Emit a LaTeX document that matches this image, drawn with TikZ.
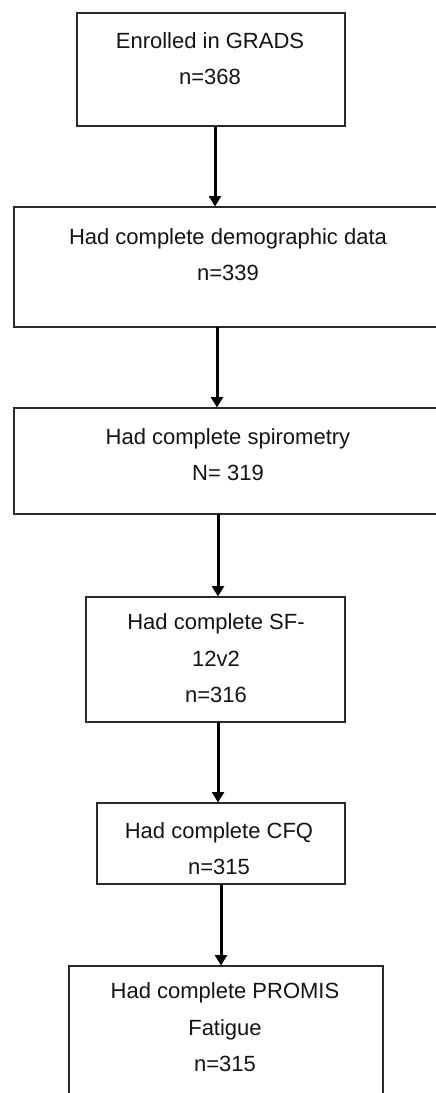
\documentclass[tikz,border=0pt]{standalone}
\usepackage{fontspec}
\setmainfont{Liberation Sans}
\usetikzlibrary{arrows.meta}
\definecolor{linegray}{HTML}{2A2A2A}
\definecolor{textgray}{HTML}{141414}
\tikzset{
  stepbox/.style={draw=linegray, line width=1.7pt, fill=white, inner sep=0pt, outer sep=0pt, rectangle},
  boxtext/.style={text=textgray, font=\fontsize{22}{36.5}\selectfont, align=center, inner sep=0pt},
  flowarrow/.style={draw=black, line width=3pt, -{Triangle[width=12pt,length=10.5pt]}, shorten >=0.5pt}
}
\begin{document}
\begin{tikzpicture}[x=1pt,y=-1pt]
\clip (0,0) rectangle (436,1093);
\fill[white] (0,0) rectangle (436,1093);
% boxes
\node[stepbox, minimum width=268pt, minimum height=113pt] (b1) at (211,69.5) {};
\node[stepbox, minimum width=428pt, minimum height=120pt] (b2) at (228,267) {};
\node[stepbox, minimum width=428pt, minimum height=106pt] (b3) at (228,461) {};
\node[stepbox, minimum width=259pt, minimum height=125pt] (b4) at (215.5,659.5) {};
\node[stepbox, minimum width=248pt, minimum height=81pt] (b5) at (221,843.5) {};
\node[stepbox, minimum width=314pt, minimum height=144pt] (b6) at (226,1038) {};
% texts
\node[boxtext] (t1) at (210,58.5) {Enrolled in GRADS\\n=368};
\node[boxtext] (t2) at (228,254.5) {Had complete demographic data\\n=339};
\node[boxtext] (t3) at (228,454.5) {Had complete spirometry\\N= 319};
\node[boxtext] (t4) at (216,658.5) {Had complete SF-\\12v2\\n=316};
\node[boxtext] (t5) at (219,848.5) {Had complete CFQ\\n=315};
\node[boxtext] (t6) at (225,1027.5) {Had complete PROMIS\\Fatigue\\n=315};
% arrows
\draw[flowarrow] ([xshift=4pt]b1.south) -- ([xshift=4pt]b1.south |- b2.north);
\draw[flowarrow] ([xshift=-11pt]b2.south) -- ([xshift=-11pt]b2.south |- b3.north);
\draw[flowarrow] ([xshift=-10pt]b3.south) -- ([xshift=-10pt]b3.south |- b4.north);
\draw[flowarrow] ([xshift=2.5pt]b4.south) -- ([xshift=2.5pt]b4.south |- b5.north);
\draw[flowarrow] (b5.south) -- (b5.south |- b6.north);
\end{tikzpicture}
\end{document}
